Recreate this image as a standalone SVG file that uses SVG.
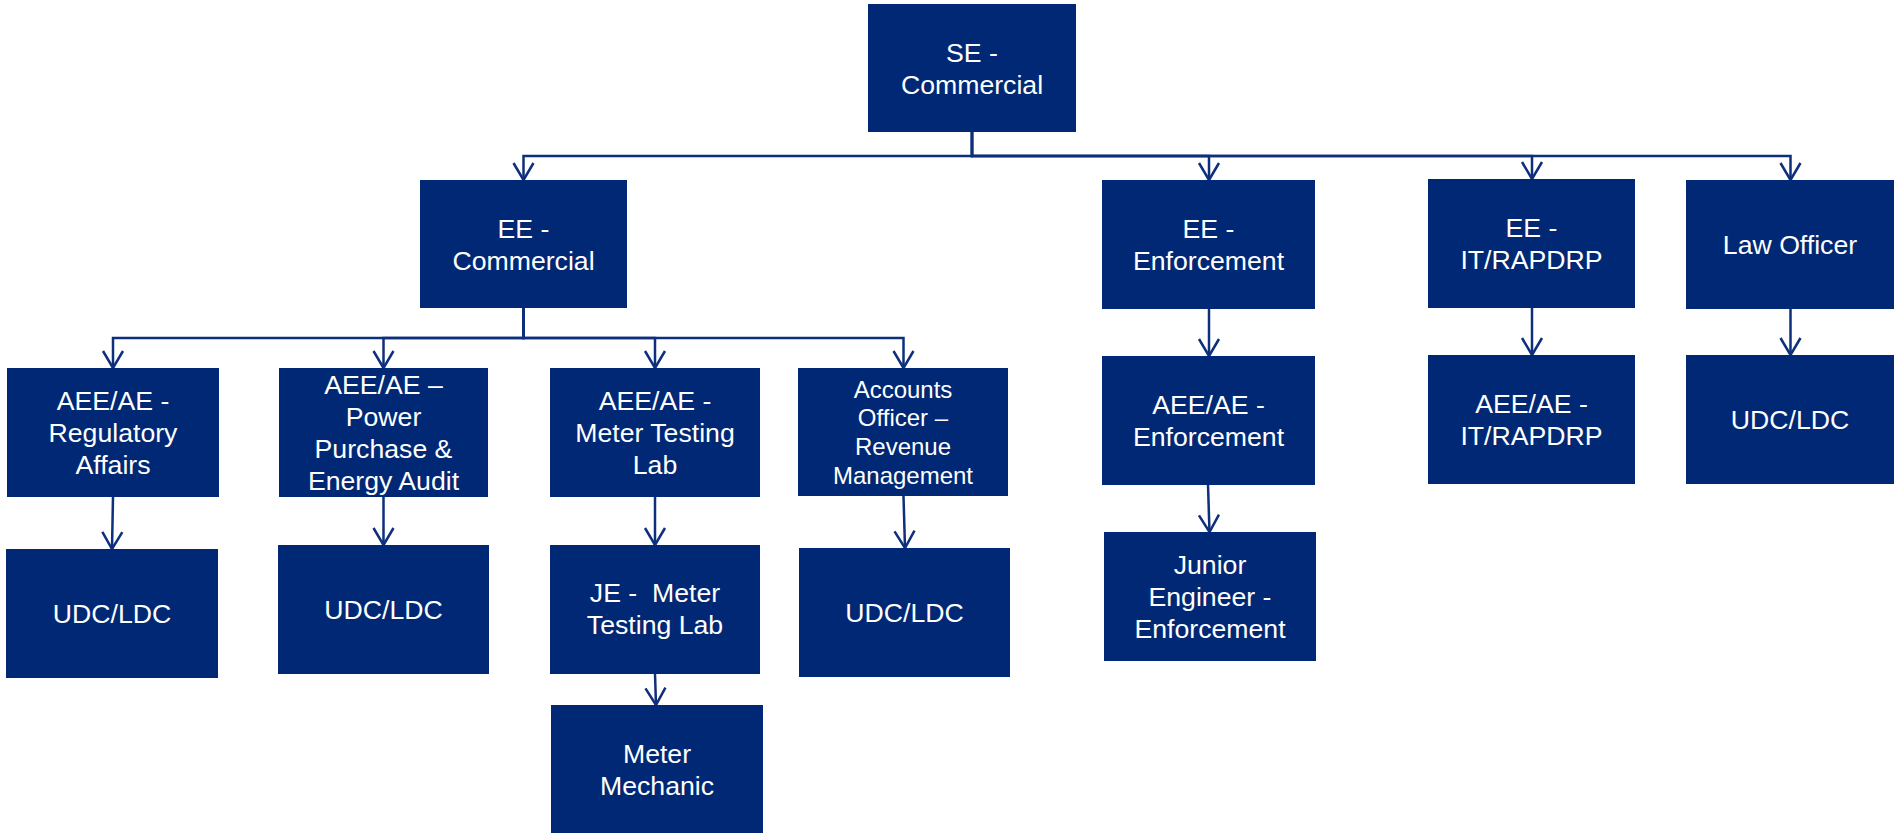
<svg xmlns="http://www.w3.org/2000/svg" width="1894" height="833" viewBox="0 0 1894 833">
  <style>
    .box { fill: #002874; }
    .lbl { fill: #ffffff; font-family: "Liberation Sans", Arial, sans-serif; font-size: 26.67px; text-anchor: middle; white-space: pre; }
    .sm { font-size: 24px; }
    .wire { fill: none; stroke: #0d2f7c; stroke-width: 2.5; stroke-linejoin: miter; marker-end: url(#vhead); }
  </style>
  <defs>
    <marker id="vhead" markerUnits="userSpaceOnUse" viewBox="-20 -12 22 24" markerWidth="22" markerHeight="24" refX="0" refY="0" orient="auto" overflow="visible">
      <path d="M-17,-10 L0,0 L-17,10" fill="none" stroke="#0d2f7c" stroke-width="2.5" stroke-linejoin="miter"/>
    </marker>
  </defs>

  <rect width="1894" height="833" fill="#ffffff"/>

  <!-- connectors -->
  <g id="connectors">
    <path class="wire" d="M972,132 V156 H523.5 V180"/>
    <path class="wire" d="M972,132 V156 H1209 V180"/>
    <path class="wire" d="M972,132 V156 H1532 V179"/>
    <path class="wire" d="M972,132 V156 H1790.5 V180"/>

    <path class="wire" d="M523.5,308 V338 H113 V368"/>
    <path class="wire" d="M523.5,308 V338 H383.5 V368"/>
    <path class="wire" d="M523.5,308 V338 H655 V368"/>
    <path class="wire" d="M523.5,308 V338 H903.5 V368"/>

    <path class="wire" d="M113,497 L112,549"/>
    <path class="wire" d="M383.5,497 V545"/>
    <path class="wire" d="M655,497 V545"/>
    <path class="wire" d="M903.5,496 L905,548"/>
    <path class="wire" d="M655,674 L656,705"/>

    <path class="wire" d="M1209,309 V356"/>
    <path class="wire" d="M1208,485 L1209.5,532"/>
    <path class="wire" d="M1532,308 V355"/>
    <path class="wire" d="M1790.5,309 V355"/>
  </g>

  <!-- top level -->
  <g id="se-commercial">
    <rect class="box" x="868" y="4" width="208" height="128"/>
    <text class="lbl" x="972" y="61.5">SE -</text>
    <text class="lbl" x="972" y="93.5">Commercial</text>
  </g>

  <!-- second level -->
  <g id="ee-commercial">
    <rect class="box" x="420" y="180" width="207" height="128"/>
    <text class="lbl" x="523.5" y="237.5">EE -</text>
    <text class="lbl" x="523.5" y="269.5">Commercial</text>
  </g>
  <g id="ee-enforcement">
    <rect class="box" x="1102" y="180" width="213" height="129"/>
    <text class="lbl" x="1208.5" y="238">EE -</text>
    <text class="lbl" x="1208.5" y="270">Enforcement</text>
  </g>
  <g id="ee-it-rapdrp">
    <rect class="box" x="1428" y="179" width="207" height="129"/>
    <text class="lbl" x="1531.5" y="237">EE -</text>
    <text class="lbl" x="1531.5" y="269">IT/RAPDRP</text>
  </g>
  <g id="law-officer">
    <rect class="box" x="1686" y="180" width="208" height="129"/>
    <text class="lbl" x="1790" y="254">Law Officer</text>
  </g>

  <!-- commercial branch -->
  <g id="aee-regulatory">
    <rect class="box" x="7" y="368" width="212" height="129"/>
    <text class="lbl" x="113" y="410">AEE/AE -</text>
    <text class="lbl" x="113" y="442">Regulatory</text>
    <text class="lbl" x="113" y="474">Affairs</text>
  </g>
  <g id="aee-power-purchase">
    <rect class="box" x="279" y="368" width="209" height="129"/>
    <text class="lbl" x="383.5" y="394">AEE/AE –</text>
    <text class="lbl" x="383.5" y="426">Power</text>
    <text class="lbl" x="383.5" y="458">Purchase &amp;</text>
    <text class="lbl" x="383.5" y="490">Energy Audit</text>
  </g>
  <g id="aee-meter-testing">
    <rect class="box" x="550" y="368" width="210" height="129"/>
    <text class="lbl" x="655" y="410">AEE/AE -</text>
    <text class="lbl" x="655" y="442">Meter Testing</text>
    <text class="lbl" x="655" y="474">Lab</text>
  </g>
  <g id="accounts-officer">
    <rect class="box" x="798" y="368" width="210" height="128"/>
    <text class="lbl sm" x="903" y="397.5">Accounts</text>
    <text class="lbl sm" x="903" y="426.3">Officer –</text>
    <text class="lbl sm" x="903" y="455.1">Revenue</text>
    <text class="lbl sm" x="903" y="483.9">Management</text>
  </g>

  <g id="udc-regulatory">
    <rect class="box" x="6" y="549" width="212" height="129"/>
    <text class="lbl" x="112" y="623">UDC/LDC</text>
  </g>
  <g id="udc-power-purchase">
    <rect class="box" x="278" y="545" width="211" height="129"/>
    <text class="lbl" x="383.5" y="619">UDC/LDC</text>
  </g>
  <g id="je-meter-testing">
    <rect class="box" x="550" y="545" width="210" height="129"/>
    <text class="lbl" x="655" y="602">JE -  Meter</text>
    <text class="lbl" x="655" y="634">Testing Lab</text>
  </g>
  <g id="udc-accounts">
    <rect class="box" x="799" y="548" width="211" height="129"/>
    <text class="lbl" x="904.5" y="622">UDC/LDC</text>
  </g>
  <g id="meter-mechanic">
    <rect class="box" x="551" y="705" width="212" height="129"/>
    <text class="lbl" x="657" y="763">Meter</text>
    <text class="lbl" x="657" y="795">Mechanic</text>
  </g>

  <!-- enforcement branch -->
  <g id="aee-enforcement">
    <rect class="box" x="1102" y="356" width="213" height="129"/>
    <text class="lbl" x="1208.5" y="414">AEE/AE -</text>
    <text class="lbl" x="1208.5" y="446">Enforcement</text>
  </g>
  <g id="je-enforcement">
    <rect class="box" x="1104" y="532" width="212" height="129"/>
    <text class="lbl" x="1210" y="574">Junior</text>
    <text class="lbl" x="1210" y="606">Engineer -</text>
    <text class="lbl" x="1210" y="638">Enforcement</text>
  </g>

  <!-- IT branch -->
  <g id="aee-it-rapdrp">
    <rect class="box" x="1428" y="355" width="207" height="129"/>
    <text class="lbl" x="1531.5" y="413">AEE/AE -</text>
    <text class="lbl" x="1531.5" y="445">IT/RAPDRP</text>
  </g>

  <!-- law branch -->
  <g id="udc-law">
    <rect class="box" x="1686" y="355" width="208" height="129"/>
    <text class="lbl" x="1790" y="429">UDC/LDC</text>
  </g>
</svg>
